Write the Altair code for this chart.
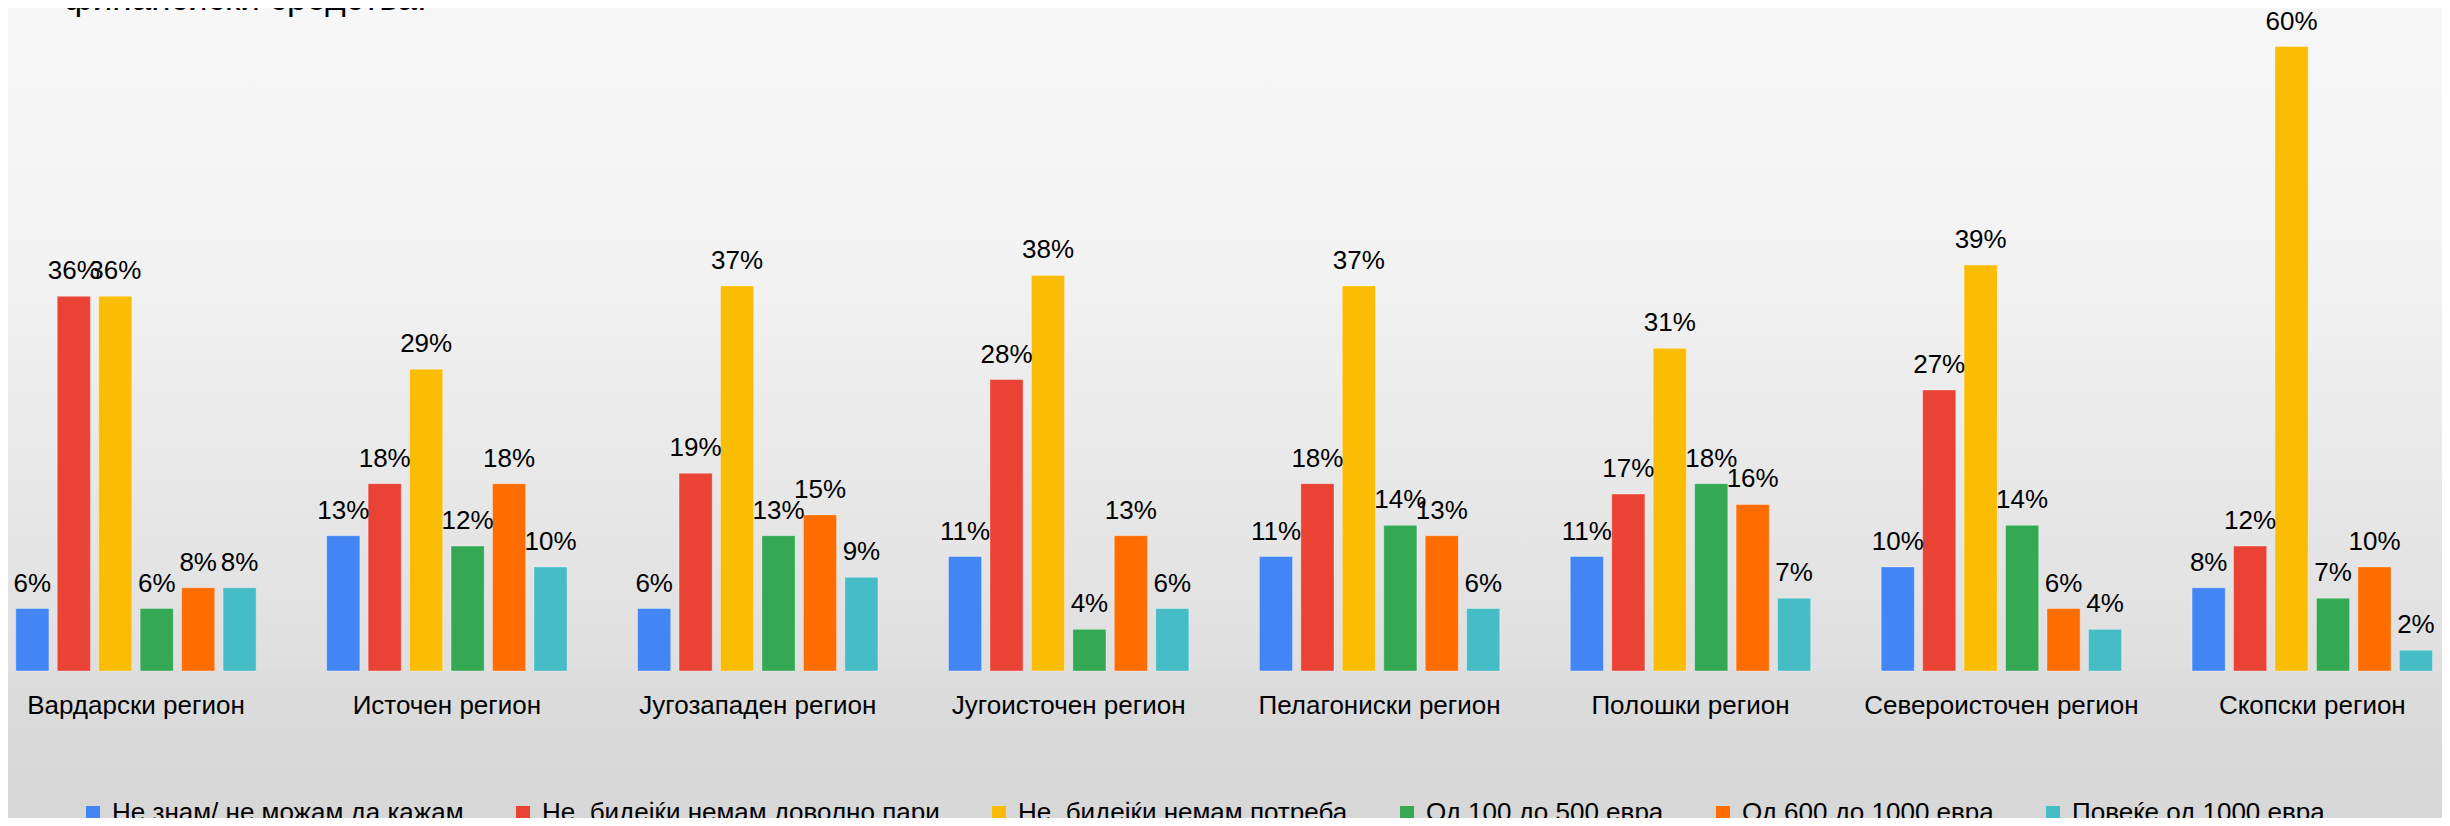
import altair as alt
import pandas as pd

regions = ["Вардарски регион", "Источен регион", "Југозападен регион", "Југоисточен регион",
           "Пелагониски регион", "Полошки регион", "Североисточен регион", "Скопски регион"]
series = ["Не знам/ не можам да кажам", "Не, бидејќи немам доволно пари", "Не, бидејќи немам потреба",
          "Од 100 до 500 евра", "Од 600 до 1000 евра", "Повеќе од 1000 евра"]
colors = ["#4285F4", "#EA4335", "#FBBC04", "#34A853", "#FF6D01", "#46BDC6"]

ne_znam = [6, 13, 6, 11, 11, 11, 10, 8]
nemam_pari = [36, 18, 19, 28, 18, 17, 27, 12]
nemam_potreba = [36, 29, 37, 38, 37, 31, 39, 60]
od_100_500 = [6, 12, 13, 4, 14, 18, 14, 7]
od_600_1000 = [8, 18, 15, 13, 13, 16, 6, 10]
poveke_1000 = [8, 10, 9, 6, 6, 7, 4, 2]
values = [ne_znam, nemam_pari, nemam_potreba, od_100_500, od_600_1000, poveke_1000]

title_tail = "финансиски средства."

rows = []
for name, vals in zip(series, values):
    for r, v in zip(regions, vals):
        rows.append({"region": r, "series": name, "value": v, "label": f"{v}%"})
df = pd.DataFrame(rows)

W = 2434
H = 663
BOTTOM = 147
YMAX = 63.7
FONT = "Liberation Sans"

xscale = alt.Scale(domain=regions, range=[-27.45, 2459.75], paddingInner=0.2, paddingOuter=0.1)
yscale = alt.Scale(domain=[0, YMAX], nice=False, zero=True)
xoff = alt.XOffset("series:N", sort=series,
                   scale=alt.Scale(domain=series, paddingInner=0.2, paddingOuter=0.1))

one = pd.DataFrame({"a": [0]})

bg_top = alt.Chart(one).mark_rect(
    color=alt.LinearGradient(
        gradient="linear",
        stops=[alt.GradientStop(color="#f7f7f7", offset=0),
               alt.GradientStop(color="#f3f3f3", offset=0.35),
               alt.GradientStop(color="#dfdfdf", offset=1)],
        x1=0, x2=0, y1=0, y2=1)
).encode(x=alt.value(0), x2=alt.value(W), y=alt.value(0), y2=alt.value(H))

bg_bottom = alt.Chart(one).mark_rect(
    color=alt.LinearGradient(
        gradient="linear",
        stops=[alt.GradientStop(color="#dcdcdc", offset=0),
               alt.GradientStop(color="#d7d7d7", offset=1)],
        x1=0, x2=0, y1=0, y2=1)
).encode(x=alt.value(0), x2=alt.value(W), y=alt.value(H), y2=alt.value(H + BOTTOM))

title = alt.Chart(one).mark_text(
    align="left", baseline="alphabetic", fontSize=35, font=FONT, color="#000000"
).encode(x=alt.value(56), y=alt.value(2), text=alt.value(title_tail))

xaxis = alt.Axis(title=None, domain=False, ticks=False, tickSize=0, grid=False,
                 labelPadding=42, labelBaseline="alphabetic", labelFontSize=26,
                 labelFont=FONT, labelColor="#000000", labelAngle=0, labelLimit=600,
                 zindex=2)

bars = alt.Chart(df).mark_bar(stroke="#ffffff", strokeOpacity=0.35, strokeWidth=1).encode(
    x=alt.X("region:N", sort=regions, scale=xscale, axis=xaxis),
    xOffset=xoff,
    y=alt.Y("value:Q", scale=yscale, axis=None),
    color=alt.Color("series:N", sort=series, scale=alt.Scale(domain=series, range=colors),
                    legend=alt.Legend(title=None, orient="none", legendX=72, legendY=792,
                                      direction="horizontal", symbolType="square",
                                      symbolSize=196, labelFontSize=26, labelFont=FONT,
                                      labelColor="#000000", labelLimit=700, columnPadding=46,
                                      labelOffset=6, symbolStrokeWidth=0, padding=0,
                                      symbolOpacity=1, zindex=2)),
)

labels = alt.Chart(df).mark_text(
    baseline="alphabetic", dy=-17, fontSize=26, font=FONT, color="#000000"
).encode(
    x=alt.X("region:N", sort=regions, scale=xscale, axis=xaxis),
    xOffset=xoff,
    y=alt.Y("value:Q", scale=yscale, axis=None),
    text="label:N",
)

chart = alt.layer(bg_top, bg_bottom, title, bars, labels).properties(
    width=W, height=H,
    autosize=alt.AutoSizeParams(type="none"),
    padding={"left": 0, "top": 0, "right": 0, "bottom": BOTTOM},
    background="#d8d8d8",
).configure_view(stroke=None)

chart.save("out.html", embed_options={"renderer": "svg", "actions": False})
